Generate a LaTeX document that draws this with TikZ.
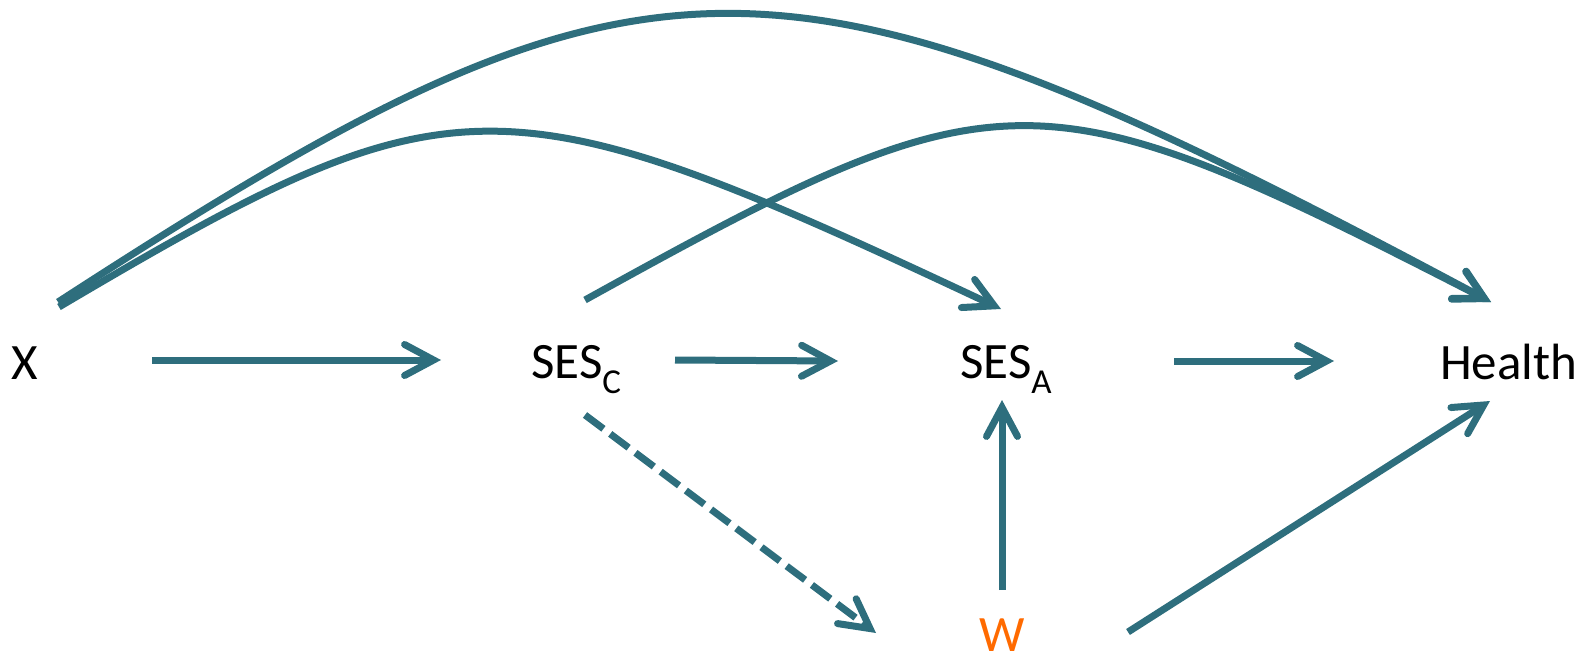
\documentclass[tikz,border=0pt]{standalone}
\usepackage{fontspec}
\setmainfont{Carlito}
\usetikzlibrary{arrows.meta}
\definecolor{edgec}{HTML}{2E6E7D}
\definecolor{worange}{HTML}{FF6A00}
\begin{document}
\begin{tikzpicture}[x=1pt,y=-1pt,
  edge/.style={line width=7pt, draw=edgec, -{Straight Barb[length=29pt,width=31pt,line cap=round,line join=miter]}},
  lab/.style={font=\fontsize{51}{51}\selectfont, inner sep=0pt, anchor=base west}]
\useasboundingbox (0,0) rectangle (1594,655);
\node[lab] (X) at (11,379) {X};
\node[lab] (SESC) at (531,378) {SES\raisebox{-15pt}{\fontsize{35}{35}\selectfont C}};
\node[lab] (SESA) at (960,378) {SES\raisebox{-15pt}{\fontsize{35}{35}\selectfont A}};
\node[lab] (Health) at (1440,379) {Health};
\node[lab, text=worange, text depth=0pt] (W) at (979,651.5) {W};
% endpoints
\coordinate (xr) at (152,360);
\coordinate (cl) at (441,360);
\coordinate (cr) at (675,360);
\coordinate (al) at (838,361);
\coordinate (ar) at (1174,361);
\coordinate (hl) at (1334,361);
\coordinate (ab) at (1002,400);
\coordinate (wt) at (1002,590);
\coordinate (wr) at (1128,632);
\coordinate (hb) at (1490,401);
\coordinate (cb) at (585,415);
\coordinate (wl) at (876,633);
\coordinate (xt1) at (58,302);
\coordinate (xt2) at (59,307);
\coordinate (ct) at (585,300);
\coordinate (ht) at (1491,302);
\coordinate (at) at (1001,309);
\draw[edge] (xr) -- (cl);
\draw[edge] (cr) -- (al);
\draw[edge] (ar) -- (hl);
\draw[edge] (wt) -- (ab);
\draw[edge] (wr) -- (hb);
\draw[edge, dash pattern=on 23pt off 8.5pt] (cb) -- (wl);
\draw[edge] (xt1) .. controls (650,-82) and (773,-82) .. (ht);
\draw[edge] (xt2) .. controls (455,73) and (499,73) .. (at);
\draw[edge] (ct) .. controls (1004,68) and (1035,68) .. (ht);
\end{tikzpicture}
\end{document}
